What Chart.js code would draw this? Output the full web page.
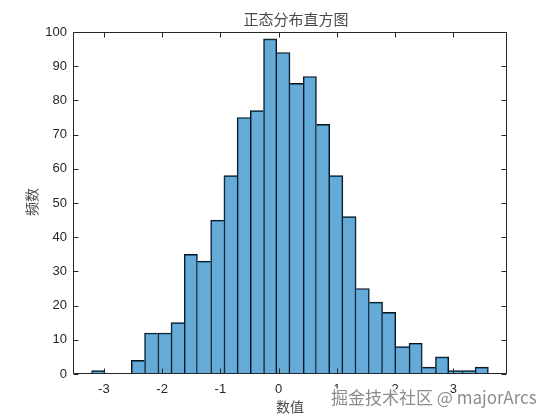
<!DOCTYPE html>
<html>
<head>
<meta charset="utf-8">
<script src="https://cdn.jsdelivr.net/npm/chart.js@4/dist/chart.umd.min.js"></script>
<style>
  body { margin: 0; background: #fff; }
  canvas { display: block; }
</style>
</head>
<body>
<canvas id="c" width="560" height="420"></canvas>
<script>
// histogram bins (1000 samples)
const binEdges = [-3.210, -2.983, -2.756, -2.529, -2.302, -2.075, -1.848, -1.621,
  -1.394, -1.167, -0.940, -0.713, -0.486, -0.259, -0.032, 0.195, 0.422, 0.649,
  0.876, 1.103, 1.330, 1.557, 1.784, 2.011, 2.238, 2.465, 2.692, 2.919, 3.146,
  3.373, 3.600];
const counts = [1, 0, 0, 4, 12, 12, 15, 35, 33, 45, 58, 75, 77, 98, 94, 85, 87,
  73, 58, 46, 25, 21, 18, 8, 9, 2, 5, 1, 1, 2];

const titleText = '正态分布直方图';
const xTitle = '数值';
const yTitle = '频数';
const watermark = '掘金技术社区 @ majorArcs';

const axisColor = '#262626';
const tickFont = { family: '"Liberation Sans", Arial, sans-serif', size: 13 };
const cjkFont = '"Noto Sans CJK SC", "Noto Sans", sans-serif';

const points = counts.map((c, i) => ({ x: (binEdges[i] + binEdges[i + 1]) / 2, y: c }));

// each shared edge is drawn once, by the taller neighbour
function edgeWidths(ctx) {
  const i = ctx.dataIndex;
  const h = counts[i];
  const prev = i > 0 ? counts[i - 1] : -1;
  const next = i < counts.length - 1 ? counts[i + 1] : -1;
  return {
    top: 1,
    bottom: 0,
    left: h >= prev ? 1 : 0,
    right: h > next ? 1 : 0
  };
}

// MATLAB style box with inward ticks, plus the texts
const frame = {
  id: 'frame',
  afterDraw(chart) {
    const { ctx, chartArea: a, scales: { x, y } } = chart;
    const L = Math.round(a.left) + 0.5, R = Math.round(a.right) - 0.5;
    const T = Math.round(a.top) + 0.5, B = Math.round(a.bottom) - 0.5;
    ctx.save();
    ctx.strokeStyle = axisColor;
    ctx.lineWidth = 1;
    ctx.beginPath();
    ctx.rect(L, T, R - L, B - T);
    x.ticks.forEach(t => {
      const px = Math.round(x.getPixelForValue(t.value)) + 0.5;
      ctx.moveTo(px, B); ctx.lineTo(px, B - 5);
      ctx.moveTo(px, T); ctx.lineTo(px, T + 5);
    });
    y.ticks.forEach(t => {
      const py = Math.round(y.getPixelForValue(t.value)) + 0.5;
      ctx.moveTo(L, py); ctx.lineTo(L + 5, py);
      ctx.moveTo(R, py); ctx.lineTo(R - 5, py);
    });
    ctx.stroke();

    ctx.fillStyle = '#4a4a4a';
    ctx.textAlign = 'center';
    ctx.textBaseline = 'middle';
    ctx.font = '15px ' + cjkFont;
    ctx.fillText(titleText, 296, 19);
    ctx.font = '14px ' + cjkFont;
    ctx.fillText(xTitle, 290, 407);
    ctx.save();
    ctx.translate(32, 202);
    ctx.rotate(-Math.PI / 2);
    ctx.fillText(yTitle, 0, 0);
    ctx.restore();

    ctx.font = '17px ' + cjkFont;
    ctx.textAlign = 'left';
    ctx.lineWidth = 3;
    ctx.strokeStyle = 'rgba(255,255,255,0.9)';
    ctx.strokeText(watermark, 331, 398);
    ctx.fillStyle = 'rgba(120,120,120,0.85)';
    ctx.fillText(watermark, 331, 398);
    ctx.restore();
  }
};

new Chart(document.getElementById('c'), {
  type: 'bar',
  data: {
    datasets: [{
      label: yTitle,
      data: points,
      backgroundColor: 'rgba(0,114,189,0.6)',
      borderColor: '#111',
      borderWidth: edgeWidths,
      borderSkipped: false,
      barPercentage: 1,
      categoryPercentage: 1
    }]
  },
  options: {
    responsive: false,
    animation: false,
    layout: { padding: { top: 32, right: 53, left: 0, bottom: 0 } },
    plugins: { legend: { display: false }, tooltip: { enabled: false } },
    scales: {
      x: {
        type: 'linear',
        min: -3.53,
        max: 3.92,
        offset: false,
        grid: { display: false, drawTicks: false, offset: false },
        border: { display: false },
        ticks: { stepSize: 1, includeBounds: false, color: axisColor, font: tickFont, padding: 8 },
        afterFit(s) { s.height = 46; }
      },
      y: {
        min: 0,
        max: 100,
        grid: { display: false, drawTicks: false },
        border: { display: false },
        ticks: { stepSize: 10, color: axisColor, font: tickFont, padding: 6 },
        afterFit(s) { s.width = 73; }
      }
    }
  },
  plugins: [frame]
});
</script>
</body>
</html>
